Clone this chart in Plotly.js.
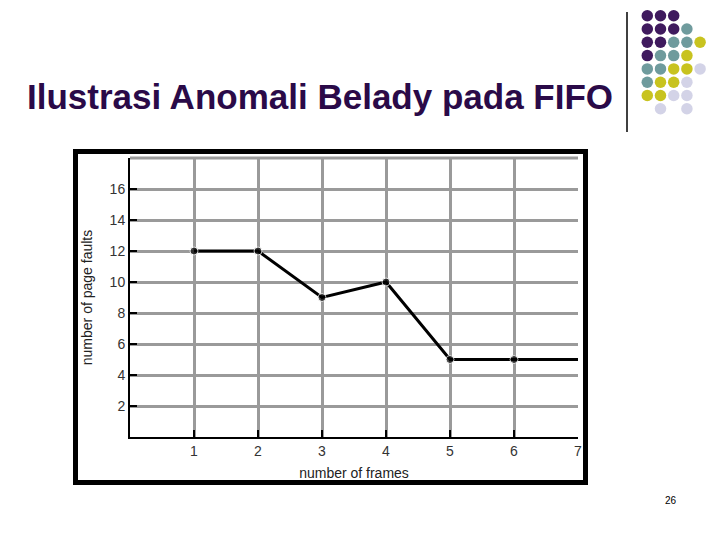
<!DOCTYPE html>
<html>
<head>
<meta charset="utf-8">
<script src="https://cdn.plot.ly/plotly-3.0.1.min.js"></script>
<style>html,body{margin:0;padding:0;background:#fff;}#chart{width:720px;height:540px;}</style>
</head>
<body>
<div id="chart"></div>
<script>
// Chart data
const frames = [1, 2, 3, 4, 5, 6, 7];
const pageFaults = [12, 12, 9, 10, 5, 5, 5];
const xTicks = [1, 2, 3, 4, 5, 6, 7];
const yTicks = [2, 4, 6, 8, 10, 12, 14, 16];
const titleText = "Ilustrasi Anomali Belady pada FIFO";
const xTitle = "number of frames";
const yTitle = "number of page faults";
const pageNumber = "26";

// Decorative dot grid (column, row indices)
const dotPurpleCol = [0, 1, 2, 0, 1, 2, 0, 1, 0];
const dotPurpleRow = [0, 0, 0, 1, 1, 1, 2, 2, 3];
const dotTealCol = [3, 2, 3, 1, 2, 0, 1, 0];
const dotTealRow = [1, 2, 2, 3, 3, 4, 4, 5];
const dotYellowCol = [4, 3, 2, 3, 1, 2, 0, 1];
const dotYellowRow = [2, 3, 4, 4, 5, 5, 6, 6];
const dotLavCol = [4, 3, 2, 3, 1, 3];
const dotLavRow = [4, 5, 6, 6, 7, 7];

const W = 720, H = 540;
const px = v => v / W;
const py = v => 1 - v / H;

// dot grid geometry (pixels)
const dotX0 = 647.3, dotDX = 13.2, dotY0 = 15.7, dotDY = 13.3;

function dotTrace(c, r, color) {
  return {
    x: c, y: r, xaxis: 'x2', yaxis: 'y2', type: 'scatter', mode: 'markers',
    marker: {size: 11.5, color: color, line: {width: 0}},
    hoverinfo: 'skip', showlegend: false, cliponaxis: false
  };
}

const traces = [
  dotTrace(dotPurpleCol, dotPurpleRow, '#3f1a5e'),
  dotTrace(dotTealCol, dotTealRow, '#6f9b9d'),
  dotTrace(dotYellowCol, dotYellowRow, '#c8c31f'),
  dotTrace(dotLavCol, dotLavRow, '#d3d3e7'),
  {
    x: frames, y: pageFaults, type: 'scatter', mode: 'lines+markers',
    xaxis: 'x', yaxis: 'y',
    line: {color: '#000', width: 3},
    marker: {color: '#000', size: [8, 8, 8, 8, 8, 8, 0]},
    showlegend: false
  }
];

const font = {family: 'Liberation Sans, Arial, sans-serif', color: '#222'};
const gridGray = '#9a9a9a';

const layout = {
  width: W, height: H,
  margin: {l: 0, r: 0, t: 0, b: 0},
  paper_bgcolor: '#fff', plot_bgcolor: 'rgba(0,0,0,0)',
  font: font,
  showlegend: false,
  title: {
    text: '<b>' + titleText + '</b>',
    font: {family: 'Liberation Sans, Arial, sans-serif', size: 35, color: '#2a0a48'},
    x: px(320), xanchor: 'center', xref: 'paper',
    y: py(97), yanchor: 'middle', yref: 'paper'
  },
  xaxis: {
    domain: [px(130), px(578)], anchor: 'y',
    range: [0, 7],
    tickvals: xTicks,
    ticks: 'inside', ticklen: 7, tickwidth: 2, tickcolor: '#000',
    showgrid: true, gridcolor: gridGray, gridwidth: 3,
    showline: true, linecolor: '#000', linewidth: 2,
    zeroline: false,
    tickfont: {size: 14, color: '#333'},
    title: {text: xTitle, font: {size: 14, color: '#222'}, standoff: 10},
    automargin: false, fixedrange: true
  },
  yaxis: {
    domain: [py(437), py(158)], anchor: 'x',
    range: [0, 18],
    tickvals: yTicks,
    ticks: 'inside', ticklen: 7, tickwidth: 2, tickcolor: '#000',
    showgrid: true, gridcolor: gridGray, gridwidth: 3,
    showline: true, linecolor: '#000', linewidth: 2,
    zeroline: false,
    tickfont: {size: 14, color: '#333'},
    title: {text: yTitle, font: {size: 14, color: '#222'}, standoff: 14},
    automargin: false, fixedrange: true
  },
  xaxis2: {
    domain: [0, 1], anchor: 'y2',
    range: [-dotX0 / dotDX, (W - dotX0) / dotDX],
    visible: false, fixedrange: true, showgrid: false, zeroline: false
  },
  yaxis2: {
    domain: [0, 1], anchor: 'x2',
    range: [(H - dotY0) / dotDY, -dotY0 / dotDY],
    visible: false, fixedrange: true, showgrid: false, zeroline: false
  },
  shapes: [
    {type: 'line', xref: 'x domain', yref: 'y domain',
     x0: 0, x1: 1, y0: 1, y1: 1,
     line: {color: gridGray, width: 3}, layer: 'below'},
    {type: 'rect', xref: 'paper', yref: 'paper',
     x0: px(75.5), x1: px(585.5), y0: py(151.5), y1: py(482.5),
     line: {color: '#000', width: 5}, fillcolor: 'rgba(0,0,0,0)', layer: 'above'},
    {type: 'line', xref: 'paper', yref: 'paper',
     x0: px(627), x1: px(627), y0: py(12), y1: py(132),
     line: {color: '#000', width: 1.5}}
  ],
  annotations: [
    {text: pageNumber, xref: 'paper', yref: 'paper', x: px(671), y: py(500),
     xanchor: 'center', yanchor: 'middle', showarrow: false,
     font: {size: 10, color: '#000'}}
  ]
};

Plotly.newPlot('chart', traces, layout, {displayModeBar: false, staticPlot: true});
</script>
</body>
</html>
